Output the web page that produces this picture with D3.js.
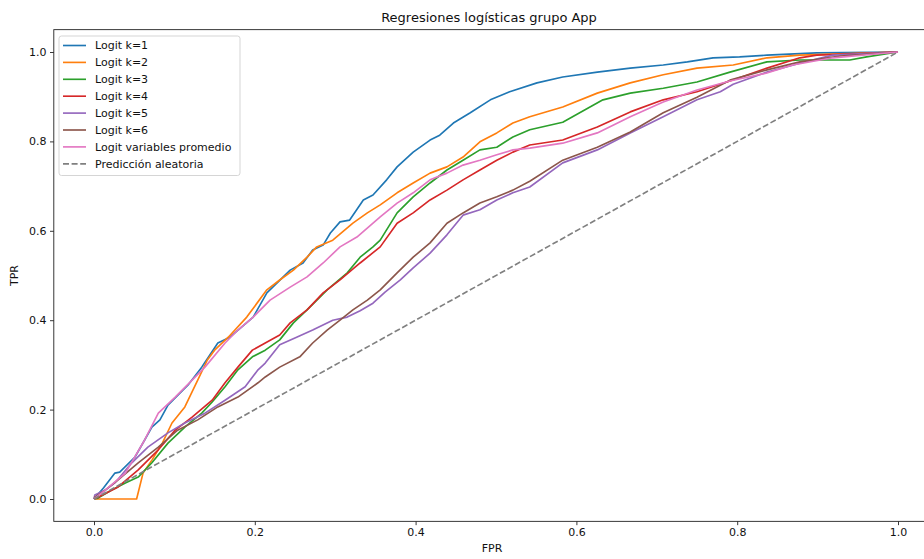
<!DOCTYPE html>
<html>
<head>
<meta charset="utf-8">
<script src="https://cdn.jsdelivr.net/npm/d3@7"></script>
<style>
  html, body { margin: 0; padding: 0; background: #fff; }
  svg { display: block; font-family: "DejaVu Sans", sans-serif; }
</style>
</head>
<body>
<svg id="chart" width="924" height="559"></svg>
<script>
// ROC curves, [FPR, TPR] pairs
const rocK1 = [[0,0],[0.012,0.025],[0.026,0.058],[0.032,0.060],[0.051,0.094],[0.063,0.132],[0.072,0.161],[0.082,0.177],[0.092,0.210],[0.117,0.255],[0.134,0.295],[0.154,0.349],[0.169,0.362],[0.198,0.407],[0.215,0.461],[0.244,0.512],[0.260,0.528],[0.272,0.557],[0.285,0.568],[0.294,0.595],[0.306,0.620],[0.318,0.624],[0.335,0.669],[0.347,0.680],[0.364,0.714],[0.377,0.743],[0.397,0.776],[0.418,0.803],[0.430,0.814],[0.447,0.841],[0.468,0.864],[0.493,0.893],[0.517,0.911],[0.551,0.931],[0.583,0.944],[0.626,0.955],[0.667,0.964],[0.708,0.971],[0.738,0.978],[0.770,0.987],[0.803,0.989],[0.837,0.993],[0.899,0.998],[1,1]];
const rocK2 = [[0,0],[0.053,0],[0.061,0.058],[0.072,0.087],[0.085,0.125],[0.097,0.170],[0.113,0.206],[0.129,0.266],[0.141,0.311],[0.150,0.333],[0.167,0.362],[0.190,0.407],[0.215,0.468],[0.231,0.490],[0.248,0.512],[0.265,0.541],[0.277,0.564],[0.297,0.579],[0.322,0.617],[0.340,0.640],[0.356,0.658],[0.377,0.685],[0.397,0.707],[0.418,0.729],[0.439,0.743],[0.459,0.765],[0.480,0.799],[0.501,0.819],[0.521,0.841],[0.542,0.855],[0.583,0.877],[0.626,0.908],[0.667,0.931],[0.708,0.949],[0.750,0.964],[0.795,0.971],[0.837,0.987],[0.878,0.993],[1,1]];
const rocK3 = [[0,0],[0.005,0.002],[0.022,0.020],[0.039,0.036],[0.055,0.049],[0.072,0.081],[0.092,0.125],[0.113,0.161],[0.134,0.192],[0.147,0.217],[0.163,0.251],[0.179,0.289],[0.197,0.318],[0.213,0.333],[0.231,0.356],[0.248,0.394],[0.265,0.423],[0.290,0.468],[0.315,0.506],[0.331,0.541],[0.347,0.564],[0.356,0.579],[0.377,0.640],[0.397,0.676],[0.418,0.707],[0.439,0.736],[0.459,0.758],[0.480,0.781],[0.501,0.787],[0.521,0.810],[0.542,0.826],[0.583,0.843],[0.633,0.893],[0.667,0.908],[0.708,0.919],[0.750,0.933],[0.791,0.955],[0.837,0.978],[0.878,0.982],[0.940,0.982],[0.961,0.989],[1,1]];
const rocK4 = [[0,0],[0.005,0.004],[0.030,0.027],[0.055,0.065],[0.080,0.110],[0.101,0.154],[0.122,0.183],[0.147,0.221],[0.163,0.260],[0.179,0.295],[0.197,0.333],[0.213,0.349],[0.231,0.367],[0.244,0.394],[0.265,0.423],[0.285,0.461],[0.306,0.490],[0.331,0.528],[0.356,0.564],[0.377,0.617],[0.397,0.640],[0.418,0.669],[0.439,0.691],[0.459,0.714],[0.480,0.736],[0.501,0.758],[0.521,0.776],[0.542,0.792],[0.583,0.803],[0.626,0.832],[0.667,0.866],[0.708,0.893],[0.750,0.911],[0.791,0.935],[0.837,0.964],[0.878,0.987],[0.899,0.993],[1,1]];
const rocK5 = [[0,0],[0.001,0.009],[0.014,0.020],[0.026,0.036],[0.047,0.081],[0.067,0.116],[0.092,0.148],[0.113,0.170],[0.138,0.192],[0.163,0.221],[0.188,0.251],[0.204,0.289],[0.213,0.304],[0.231,0.345],[0.252,0.362],[0.272,0.378],[0.297,0.400],[0.315,0.407],[0.331,0.421],[0.347,0.438],[0.362,0.463],[0.381,0.490],[0.397,0.517],[0.418,0.550],[0.439,0.591],[0.459,0.635],[0.480,0.647],[0.501,0.669],[0.521,0.685],[0.542,0.698],[0.583,0.752],[0.626,0.781],[0.667,0.819],[0.708,0.855],[0.750,0.893],[0.779,0.911],[0.795,0.928],[0.837,0.955],[0.878,0.975],[0.919,0.993],[1,1]];
const rocK6 = [[0,0],[0.001,0.004],[0.014,0.020],[0.030,0.043],[0.055,0.081],[0.080,0.116],[0.104,0.154],[0.129,0.177],[0.154,0.206],[0.179,0.228],[0.204,0.260],[0.213,0.273],[0.231,0.295],[0.256,0.318],[0.272,0.349],[0.290,0.378],[0.306,0.400],[0.322,0.423],[0.340,0.445],[0.356,0.468],[0.377,0.506],[0.397,0.541],[0.418,0.573],[0.439,0.617],[0.459,0.640],[0.480,0.662],[0.501,0.676],[0.521,0.691],[0.542,0.711],[0.583,0.758],[0.626,0.787],[0.667,0.821],[0.708,0.864],[0.750,0.899],[0.791,0.937],[0.837,0.960],[0.878,0.978],[0.928,0.991],[1,1]];
const rocPromedio = [[0,0],[0.014,0.020],[0.039,0.058],[0.063,0.132],[0.080,0.192],[0.101,0.228],[0.122,0.266],[0.138,0.295],[0.163,0.349],[0.179,0.378],[0.198,0.407],[0.219,0.445],[0.244,0.474],[0.265,0.497],[0.285,0.528],[0.306,0.564],[0.327,0.586],[0.356,0.631],[0.377,0.662],[0.397,0.685],[0.418,0.714],[0.439,0.729],[0.459,0.747],[0.480,0.758],[0.501,0.770],[0.521,0.781],[0.542,0.785],[0.583,0.796],[0.626,0.819],[0.667,0.855],[0.708,0.888],[0.750,0.915],[0.791,0.935],[0.837,0.953],[0.869,0.971],[0.919,0.987],[1,1]];
const rocAleatoria = [[0,0],[1,1]];

const seriesLabels = ["Logit k=1", "Logit k=2", "Logit k=3", "Logit k=4", "Logit k=5", "Logit k=6", "Logit variables promedio", "Predicción aleatoria"];
const xTicks = [0.0, 0.2, 0.4, 0.6, 0.8, 1.0];
const yTicks = [0.0, 0.2, 0.4, 0.6, 0.8, 1.0];
const chartTitle = "Regresiones logísticas grupo App";
const xLabel = "FPR";
const yLabel = "TPR";

// styling
const palette = ["#1f77b4", "#ff7f0e", "#2ca02c", "#d62728", "#9467bd", "#8c564b", "#e377c2", "#808080"];
const series = [rocK1, rocK2, rocK3, rocK4, rocK5, rocK6, rocPromedio, rocAleatoria];

const svg = d3.select("#chart");

// axes box (data limits padded by 5%)
const x = d3.scaleLinear().domain([0, 1]).range([94, 898]);
const y = d3.scaleLinear().domain([0, 1]).range([499, 52]);
const box = { left: x(-0.05), right: x(1.05), top: y(1.05), bottom: y(-0.05) };

svg.append("rect").attr("width", 924).attr("height", 559).attr("fill", "#fff");

const plot = svg.append("g");
const clipId = "plotClip";
svg.append("defs").append("clipPath").attr("id", clipId)
  .append("rect")
  .attr("x", box.left).attr("y", box.top)
  .attr("width", box.right - box.left).attr("height", box.bottom - box.top);

const line = d3.line().x(d => x(d[0])).y(d => y(d[1]));

plot.append("g").attr("clip-path", `url(#${clipId})`)
  .selectAll("path")
  .data(series)
  .join("path")
  .attr("d", d => line(d))
  .attr("fill", "none")
  .attr("stroke", (d, i) => palette[i])
  .attr("stroke-width", 1.65)
  .attr("stroke-linejoin", "round")
  .attr("stroke-dasharray", (d, i) => i === 7 ? "6,2.6" : null);

// spines
svg.append("rect")
  .attr("x", box.left).attr("y", box.top)
  .attr("width", box.right - box.left).attr("height", box.bottom - box.top)
  .attr("fill", "none").attr("stroke", "#222").attr("stroke-width", 0.9);

// axes
const fmt = d3.format(".1f");
const xAxis = svg.append("g")
  .attr("transform", `translate(0,${box.bottom})`)
  .call(d3.axisBottom(x).tickValues(xTicks).tickFormat(fmt).tickSize(3.8).tickPadding(3.5));
const yAxis = svg.append("g")
  .attr("transform", `translate(${box.left},0)`)
  .call(d3.axisLeft(y).tickValues(yTicks).tickFormat(fmt).tickSize(3.8).tickPadding(3.5));
[xAxis, yAxis].forEach(a => {
  a.select(".domain").remove();
  a.selectAll(".tick line").attr("stroke", "#222").attr("stroke-width", 0.9);
  a.selectAll(".tick text").attr("fill", "#111").style("font-size", "11px").style("font-family", "DejaVu Sans");
});

// title and axis labels
svg.append("text")
  .attr("x", 489).attr("y", 22)
  .attr("text-anchor", "middle")
  .style("font-size", "13px").attr("fill", "#111")
  .text(chartTitle);
svg.append("text")
  .attr("x", 492).attr("y", 552)
  .attr("text-anchor", "middle")
  .style("font-size", "11px").attr("fill", "#111")
  .text(xLabel);
svg.append("text")
  .attr("transform", `translate(18,${(box.top + box.bottom) / 2}) rotate(-90)`)
  .attr("text-anchor", "middle")
  .style("font-size", "11px").attr("fill", "#111")
  .text(yLabel);

// legend
const legend = svg.append("g").attr("transform", "translate(59,36)");
const rowH = 16.9;
legend.append("rect")
  .attr("x", 0).attr("y", 0)
  .attr("width", 181).attr("height", 139.5)
  .attr("rx", 2.5)
  .attr("fill", "#fff").attr("fill-opacity", 0.8)
  .attr("stroke", "#d0d0d0").attr("stroke-width", 0.9);
const rows = legend.selectAll("g.row")
  .data(seriesLabels)
  .join("g")
  .attr("class", "row")
  .attr("transform", (d, i) => `translate(0,${9.5 + i * rowH})`);
rows.append("line")
  .attr("x1", 4).attr("x2", 27).attr("y1", 0).attr("y2", 0)
  .attr("stroke", (d, i) => palette[i])
  .attr("stroke-width", 1.65)
  .attr("stroke-dasharray", (d, i) => i === 7 ? "6,2.6" : null);
rows.append("text")
  .attr("x", 36).attr("y", 0).attr("dy", "0.35em")
  .style("font-size", "11px").attr("fill", "#111")
  .text(d => d);
</script>
</body>
</html>
